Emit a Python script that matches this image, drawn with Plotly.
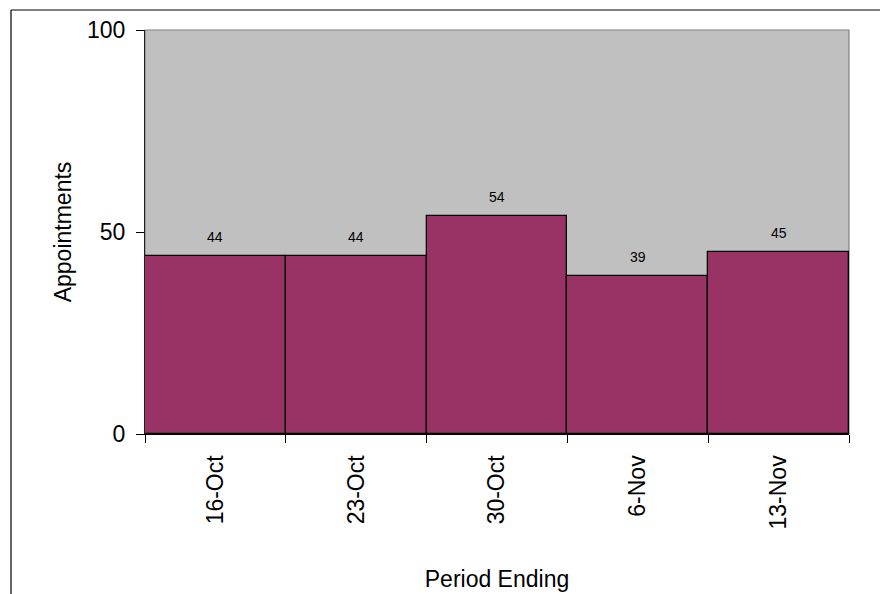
import plotly.graph_objects as go

categories = ["16-Oct", "23-Oct", "30-Oct", "6-Nov", "13-Nov"]
appointments = [44, 44, 54, 39, 45]
y_ticks = [0, 50, 100]

W, H = 880, 594
L, R, T, B = 145, 31, 30, 160
pw, ph = W - L - R, H - T - B

def px_x(p):
    return (p - L) / pw

def px_y(p):
    return (H - B - p) / ph

FONT = "Liberation Sans, Arial"

fig = go.Figure()
fig.add_trace(go.Bar(
    x=categories, y=appointments,
    marker=dict(color="#993366", line=dict(color="#000000", width=1.3)),
    width=1.0,
    hoverinfo="x+y",
))

for c, v in zip(categories, appointments):
    fig.add_annotation(x=c, y=v, text=str(v), showarrow=False,
                       yanchor="bottom", yshift=9,
                       font=dict(family=FONT, size=14, color="#000000"))

# outer chart frame (left and top edges visible)
fig.add_shape(type="line", xref="paper", yref="paper",
              x0=px_x(11), x1=px_x(11), y0=px_y(600), y1=px_y(10),
              line=dict(color="#000000", width=1.2))
fig.add_shape(type="line", xref="paper", yref="paper",
              x0=px_x(11), x1=px_x(885), y0=px_y(10), y1=px_y(10),
              line=dict(color="#000000", width=1.2))
# plot area border
fig.add_shape(type="rect", xref="paper", yref="paper", x0=0, x1=1, y0=0, y1=1,
              line=dict(color="#808080", width=1.2), layer="below")

fig.update_layout(
    width=W, height=H,
    margin=dict(l=L, r=R, t=T, b=B),
    paper_bgcolor="#FFFFFF", plot_bgcolor="#C0C0C0",
    bargap=0, showlegend=False,
    font=dict(family=FONT, size=23, color="#000000"),
    xaxis=dict(
        type="category", tickangle=-90, ticks="outside", tickson="boundaries",
        ticklen=8, tickcolor="#000000", tickwidth=1, ticklabelstandoff=11,
        showline=True, linecolor="#000000", linewidth=1.3,
        showgrid=False, zeroline=False, automargin=False,
        title=dict(text="Period Ending", standoff=42, font=dict(size=23)),
        tickfont=dict(size=23),
    ),
    yaxis=dict(
        range=[0, 100], tickvals=y_ticks, ticks="outside", ticklen=8,
        tickcolor="#000000", tickwidth=1, ticklabelstandoff=6,
        showline=True, linecolor="#202020", linewidth=1.3,
        showgrid=False, zeroline=False, automargin=False,
        title=dict(text="Appointments", standoff=8, font=dict(size=23)),
        tickfont=dict(size=23),
    ),
)

fig.write_html("out.html")
